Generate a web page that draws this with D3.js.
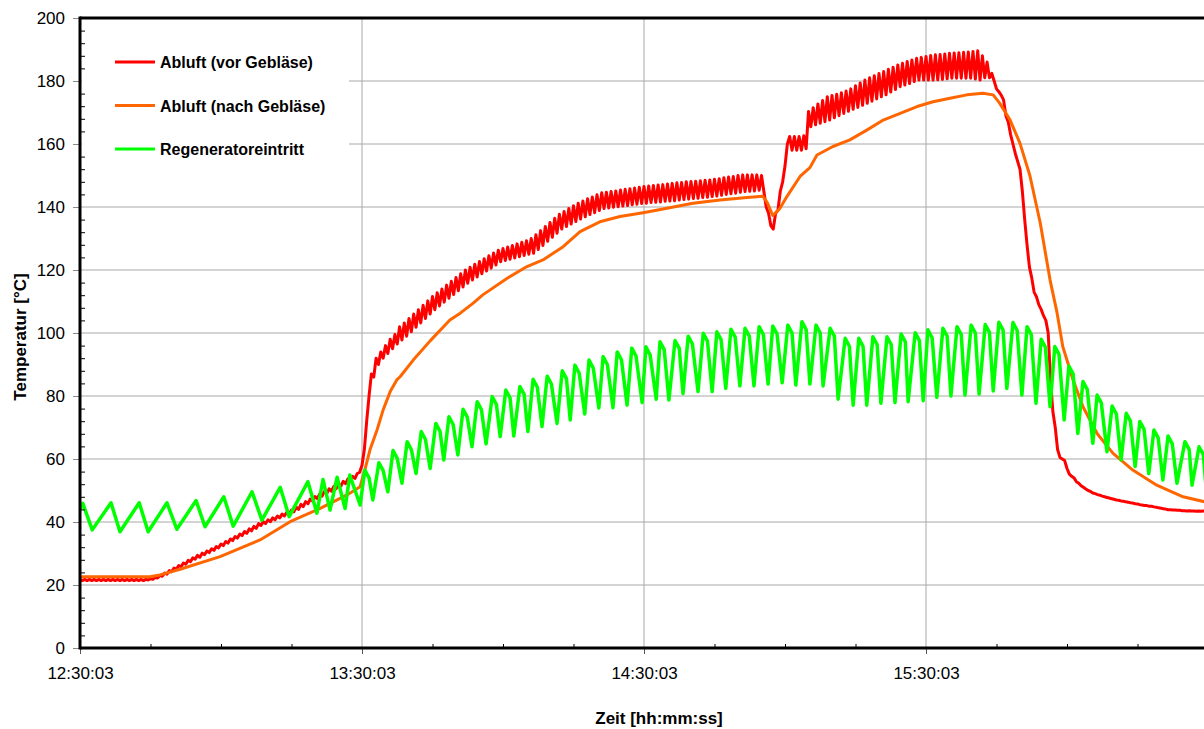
<!DOCTYPE html>
<html>
<head>
<meta charset="utf-8">
<script src="https://d3js.org/d3.v7.min.js"></script>
<style>
  body { margin: 0; background: #fff; }
  text { font-family: "Liberation Sans", Arial, sans-serif; }
</style>
</head>
<body>
<div id="chart"></div>
<script>

// minutes since 12:30:03, one value per minute (upper tooth) and per half minute after (lower tooth)
var redHi = [
  21.8,21.8,21.8,21.8,21.8,21.8,21.8,21.8,21.8,21.8,
  21.8,21.8,21.8,21.8,21.8,22,22.4,23,23.8,24.6,
  25.4,26.2,27,27.8,28.6,29.4,30.1,30.8,31.5,32.2,
  33,33.8,34.6,35.4,36.2,37,37.8,38.6,39.5,40.1,
  40.7,41.3,41.9,42.5,43.1,43.8,44.7,45.6,46.5,47.3,
  48.1,48.9,49.7,50.5,51.3,52.1,52.9,53.7,54.5,55.4,
  58,72,87,92,94,96,98,99.5,102,103.2,
  104.6,106,107.4,108.8,110.2,111.6,112.8,114,115.2,116.4,
  117.6,118.8,120,120.9,121.8,122.7,123.6,124.5,125.4,126.3,
  126.8,127.3,127.8,128.3,128.8,129.3,130,131.2,132.5,133.8,
  135.1,136.4,137.7,138.6,139.5,140.4,141.2,141.9,142.6,143.2,
  143.9,144.5,144.7,144.9,145.1,145.4,145.6,145.8,146,146.3,
  146.5,146.7,146.8,147,147.1,147.3,147.5,147.7,147.8,148,
  148.1,148.2,148.3,148.5,148.6,148.8,149,149.3,149.5,149.7,
  150,150.2,150.2,150.2,150.2,150,140,134,138,145,
  153,162.4,162.4,162.4,162.6,170.3,171.5,172.7,173.8,175,
  175.4,175.8,176.3,176.8,177.5,178.5,179.4,180.3,181,181.7,
  182.4,183,183.7,184.4,185.1,185.6,186.2,186.7,187.2,187.5,
  187.8,188.1,188.3,188.4,188.6,188.8,188.9,189,189.1,189.2,
  189.4,189.6,188,186,182.4,177.5,175.5,169,163,157,
  152,136,121,113,109,105.5,100,75,63,60,
  57,54.5,52.8,51.5,50.5,49.7,49,48.5,48,47.6,
  47.2,46.9,46.6,46.3,46,45.7,45.4,45.2,45,44.7,
  44.4,44.1,43.9,43.8,43.7,43.6,43.6,43.5,43.5,43.5
];
var redLo = [
  21.4,21.4,21.4,21.4,21.4,21.4,21.4,21.4,21.4,21.4,
  21.4,21.4,21.4,21.4,21.6,21.8,22.2,22.8,23.4,24.2,
  25,25.8,26.6,27.4,28.2,28.8,29.6,30.3,31,31.8,
  32.5,33.3,34.1,34.9,35.7,36.4,37.2,38,38.9,39.5,
  40.1,40.7,41.3,41.9,42.5,43.2,44,44.9,45.8,46.6,
  47.4,48.2,49,49.8,50.6,51.4,52.2,53,53.8,55.8,
  63,80,86,90,92,93.5,95,96.5,97.8,99,
  100.4,101.8,103.2,104.6,106,107.4,108.6,109.8,111,112.2,
  113.4,114.6,115.8,116.8,117.8,118.8,119.7,120.6,121.6,122.6,
  123,123.4,123.8,124.2,124.6,125,125.3,126.5,127.8,129.1,
  130.4,131.7,133,133.8,134.6,135.4,136.2,136.9,137.6,138.2,
  138.9,139.5,139.7,139.9,140.1,140.3,140.5,140.7,140.9,141.1,
  141.2,141.4,141.5,141.6,141.8,141.9,142,142.2,142.4,142.5,
  142.7,142.8,143,143.1,143.3,143.5,143.7,144,144.2,144.4,
  144.7,144.9,145,145.1,145.3,145,138,133,139,148,
  160,158,158,158,158.5,165.5,166.1,166.6,167.1,167.6,
  168.3,169,169.7,170.4,171,171.6,172.3,172.9,173.6,174.3,
  175,175.6,176.5,177.3,178.2,178.7,179.2,179.8,180.3,180.3,
  180.3,180.3,180.4,180.5,180.7,180.9,180.9,180.9,180.9,180.9,
  180.6,180.3,181,181,180,176.6,174,167,160,154.5,
  145,128,117.5,111.5,107.5,104,85,70,60.5,59.5,
  55.2,54,52.3,51,50,49.2,48.7,48.2,47.8,47.4,
  47,46.7,46.4,46.1,45.8,45.5,45.2,45,44.8,44.5,
  44.2,43.9,43.8,43.7,43.6,43.5,43.5,43.4,43.4,43.4
];

// [minutes, °C]
var orangeData = [
  [0,22.6],[14.9,22.6],[17,23.2],[21.3,25],[29.8,29],[38.3,34.3],[44.7,40.1],[51.1,44.3],
  [56.8,48.6],[59.6,51.2],[60.6,56.5],[61.7,62.9],[63.2,69.2],[64.5,75.6],[66,81.4],[67.4,85.1],
  [68.1,86.1],[70.9,91.4],[74.5,97.5],[78.7,104.1],[80.9,106.3],[83.6,109.4],[85.7,112.1],
  [90.9,117.4],[95.1,121.1],[98.5,123.2],[102.8,127.4],[106.4,132.2],[110.6,135.3],[114.9,137],
  [119.8,138.2],[124.9,139.6],[130.4,141.2],[136.2,142.2],[141.9,143],[145.3,143.4],[146.2,141.5],
  [147.4,137.3],[148.9,139.5],[150.4,143.3],[153.2,149.7],[155.3,152.5],[156.8,156.5],[160.2,159.2],
  [163.8,161.3],[167.4,164.4],[170.9,167.6],[174.5,169.7],[178.1,171.9],[181.5,173.4],[185.1,174.5],
  [188.7,175.6],[192.1,176.1],[194.3,175.6],[195.7,172.9],[197.9,167.6],[200,160.2],[202.1,150],
  [204.3,135],[206.4,116.8],[207.9,106.3],[209.1,95.7],[211.3,85.1],[213.4,76.6],[216.4,68.1],
  [219.8,61.8],[224,56.5],[229.1,51.7],[234.7,48],[239.6,46.3]
];

// peaks, shoulders and troughs, [minutes, °C]
var greenData = [
  [0,44],[0.6,45.9],[2.6,37.5],[6.6,46.1],[8.5,36.9],[12.6,46.1],[14.5,36.9],[18.5,46.1],
  [20.6,37.7],[24.7,46.8],[26.6,38.5],[30.6,48],[32.6,38.7],[36.6,49.6],[38.7,40.6],[42.6,51],
  [44.5,41.7],[48.5,52.8],[50.4,42.8],[51.7,53.5],[53.2,43.8],[54.7,54.2],[56.4,44.3],[57.4,54.9],
  [59.6,45.4],
  [60.6,56.5],[61.5,54],[62.3,47],
  [63.6,58.8],[64.5,56.3],[65.5,49.6],
  [66.6,62.7],[67.5,60.2],[68.5,52.3],
  [69.6,65.5],[70.5,63],[71.5,55.4],
  [72.6,68.7],[73.5,66.2],[74.5,57],
  [75.7,71.3],[76.6,68.8],[77.4,59.7],
  [78.5,73.4],[79.4,70.9],[80.4,61.3],
  [81.5,75.8],[82.4,73.3],[83.4,63.9],
  [84.5,78.2],[85.4,75.7],[86.4,64.8],
  [87.7,79.8],[88.6,77.3],[89.4,67.1],
  [90.6,81.9],[91.5,79.4],[92.3,67.3],
  [93.6,83],[94.5,80.5],[95.3,68.7],
  [96.4,85.3],[97.3,82.8],[98.3,70.3],
  [99.4,86.3],[100.3,83.8],[101.5,71.3],
  [102.6,88],[103.5,85.5],[104.3,72.4],
  [105.3,89.8],[106.2,87.3],[107.4,74.3],
  [108.3,91.4],[109.2,88.9],[110.4,76.2],
  [111.3,92.5],[112.2,90],[113.4,76.3],
  [114.3,94],[115.2,91.5],[116.4,77.1],
  [117.4,95.2],[118.3,92.7],[119.6,77.9],
  [120.4,95.6],[121.3,93.1],[122.6,79],
  [123.4,97.2],[124.3,94.7],[125.3,78.7],
  [126.6,97.6],[127.5,95.1],[128.3,80.8],
  [129.4,99],[130.3,96.5],[131.5,81.4],
  [132.6,99.9],[133.5,97.4],[134.5,81.4],
  [135.5,100.4],[136.4,97.9],[137.4,82.4],
  [138.5,101.2],[139.4,98.7],[140.4,83.2],
  [141.5,101.5],[142.4,99],[143.4,83.2],
  [144.5,102],[145.4,99.5],[146.4,83.8],
  [147.4,102.2],[148.3,99.7],[149.4,84.2],
  [150.6,102.5],[151.5,100],[152.3,83.5],
  [153.6,103.6],[154.5,101.1],[155.3,83.8],
  [156.6,102.5],[157.5,100],[158.1,83.2],
  [159.6,101.5],[160.5,99],[161.3,79],
  [162.8,98.3],[163.7,95.8],[164.5,77.1],
  [165.7,98.3],[166.6,95.8],[167.4,77.1],
  [168.7,98.8],[169.6,96.3],[170.4,77.7],
  [171.7,98.8],[172.6,96.3],[173.4,77.9],
  [174.7,99.7],[175.6,97.2],[176.2,78.2],
  [177.7,100.1],[178.6,97.6],[179.4,78.5],
  [180.4,101],[181.3,98.5],[182.3,79.6],
  [183.6,101.5],[184.5,99],[185.3,80],
  [186.6,102],[187.5,99.5],[188.3,80.3],
  [189.6,102.5],[190.5,100],[191.3,80.6],
  [192.6,102.7],[193.5,100.2],[194.3,81.6],
  [195.5,103.4],[196.4,100.9],[197.2,82.4],
  [198.5,103.3],[199.4,100.8],[200.4,80.3],
  [201.5,102],[202.4,99.5],[203.4,77.7],
  [204.5,98],[205.4,95.5],[206.4,76.6],
  [207.4,95.7],[208.3,93.2],[209.4,72.4],
  [210.4,89.5],[211.3,87],[212.3,68.1],
  [213.4,84.6],[214.3,82.1],[215.5,65],
  [216.4,80.3],[217.3,77.8],[218.5,62.3],
  [219.6,76.8],[220.5,74.3],[221.5,59.7],
  [222.6,74.5],[223.5,72],[224.5,57.6],
  [225.5,71.9],[226.4,69.4],[227.4,55.4],
  [228.5,69.2],[229.4,66.7],[230.4,53.3],
  [231.5,67.3],[232.4,64.8],[233.4,52.3],
  [235.1,65.5],[236,63],[236.6,51.7],
  [238.1,63.9],[239,61.4],[239.6,50.7]
];

var seriesNames = ["Abluft (vor Gebläse)", "Abluft (nach Gebläse)", "Regeneratoreintritt"];
var seriesColors = ["#ff0000", "#ff6600", "#00ff00"];
var hourTicks = [0, 60, 120, 180];   // minutes
var yTicks = d3.range(0, 201, 20);

var width = 1204, height = 729;
var plotLeft = 80, plotTop = 18, plotBottom = 648;

var start = new Date(2000, 0, 1, 12, 30, 3);
function toDate(m) { return new Date(start.getTime() + m * 60000); }

var x = d3.scaleTime().domain([start, toDate(240)]).range([plotLeft, 1208]);
var y = d3.scaleLinear().domain([0, 200]).range([plotBottom, plotTop]);

var svg = d3.select("#chart").append("svg")
  .attr("width", width)
  .attr("height", height);

svg.append("clipPath").attr("id", "plot")
  .append("rect").attr("x", plotLeft).attr("y", plotTop)
  .attr("width", width - plotLeft).attr("height", plotBottom - plotTop);

// grid
svg.append("g").selectAll("line").data(yTicks.slice(1, -1)).enter().append("line")
  .attr("x1", plotLeft).attr("x2", width)
  .attr("y1", function (d) { return y(d); }).attr("y2", function (d) { return y(d); })
  .attr("stroke", "#a8a8a8").attr("stroke-width", 1);
svg.append("g").selectAll("line").data(hourTicks.slice(1)).enter().append("line")
  .attr("x1", function (d) { return x(toDate(d)); }).attr("x2", function (d) { return x(toDate(d)); })
  .attr("y1", plotTop).attr("y2", plotBottom)
  .attr("stroke", "#a8a8a8").attr("stroke-width", 1);

// legend background hides grid
svg.append("rect").attr("x", 82).attr("y", 36).attr("width", 267).attr("height", 138).attr("fill", "#fff");

// series
var line = d3.line()
  .x(function (d) { return x(toDate(d[0])); })
  .y(function (d) { return y(d[1]); });

var redData = [];
redHi.forEach(function (v, i) {
  redData.push([i, v]);
  redData.push([i + 0.5, redLo[i]]);
});

var lines = svg.append("g").attr("clip-path", "url(#plot)");
[redData, orangeData, greenData].forEach(function (data, i) {
  lines.append("path")
    .datum(data)
    .attr("d", line)
    .attr("fill", "none")
    .attr("stroke", seriesColors[i])
    .attr("stroke-width", i == 2 ? 3.5 : 3)
    .attr("stroke-linejoin", "round");
});

// axes
var yAxis = svg.append("g").attr("transform", "translate(" + plotLeft + ",0)")
  .call(d3.axisLeft(y).tickValues(yTicks).tickSize(7).tickPadding(8));
yAxis.select(".domain").remove();
yAxis.selectAll("line").attr("stroke", "#888");
yAxis.selectAll("text").attr("font-size", 17).attr("fill", "#000");

var yMinor = svg.append("g").attr("transform", "translate(" + plotLeft + ",0)")
  .call(d3.axisRight(y).tickValues(d3.range(0, 201, 4).filter(function (v) { return v % 20; }))
    .tickSize(5).tickFormat(""));
yMinor.select(".domain").remove();

var xAxis = svg.append("g").attr("transform", "translate(0," + plotBottom + ")")
  .call(d3.axisBottom(x).tickValues(hourTicks.map(toDate)).tickSize(6).tickPadding(13)
    .tickFormat(d3.timeFormat("%H:%M:%S")));
xAxis.select(".domain").remove();
xAxis.selectAll("line").attr("stroke", "#555");
xAxis.selectAll("text").attr("font-size", 17).attr("fill", "#000");

var xMinor = svg.append("g").attr("transform", "translate(0," + plotBottom + ")")
  .call(d3.axisTop(x).tickValues(d3.range(15, 240, 15).filter(function (m) { return m % 60; }).map(toDate))
    .tickSize(4).tickFormat(""));
xMinor.select(".domain").remove();

// frame
svg.append("line").attr("x1", plotLeft).attr("x2", plotLeft).attr("y1", plotTop - 1.5).attr("y2", plotBottom + 1.5)
  .attr("stroke", "#000").attr("stroke-width", 3);
svg.append("line").attr("x1", plotLeft).attr("x2", width).attr("y1", plotBottom).attr("y2", plotBottom)
  .attr("stroke", "#000").attr("stroke-width", 3);
svg.append("line").attr("x1", plotLeft).attr("x2", width).attr("y1", plotTop).attr("y2", plotTop)
  .attr("stroke", "#000").attr("stroke-width", 3);

// titles
svg.append("text")
  .attr("transform", "translate(26,337) rotate(-90)")
  .attr("text-anchor", "middle")
  .attr("font-size", 17).attr("font-weight", "bold")
  .text("Temperatur [°C]");
svg.append("text")
  .attr("x", 659).attr("y", 724)
  .attr("text-anchor", "middle")
  .attr("font-size", 17).attr("font-weight", "bold")
  .text("Zeit [hh:mm:ss]");

// legend
var legend = svg.append("g").selectAll("g").data(seriesNames).enter().append("g")
  .attr("transform", function (d, i) { return "translate(115," + (62 + i * 43.5) + ")"; });
legend.append("line").attr("x1", 0).attr("x2", 40)
  .attr("stroke", function (d, i) { return seriesColors[i]; }).attr("stroke-width", 3);
legend.append("text").attr("x", 45).attr("y", 6)
  .attr("font-size", 16).attr("font-weight", "bold")
  .text(function (d) { return d; });

</script>
</body>
</html>
